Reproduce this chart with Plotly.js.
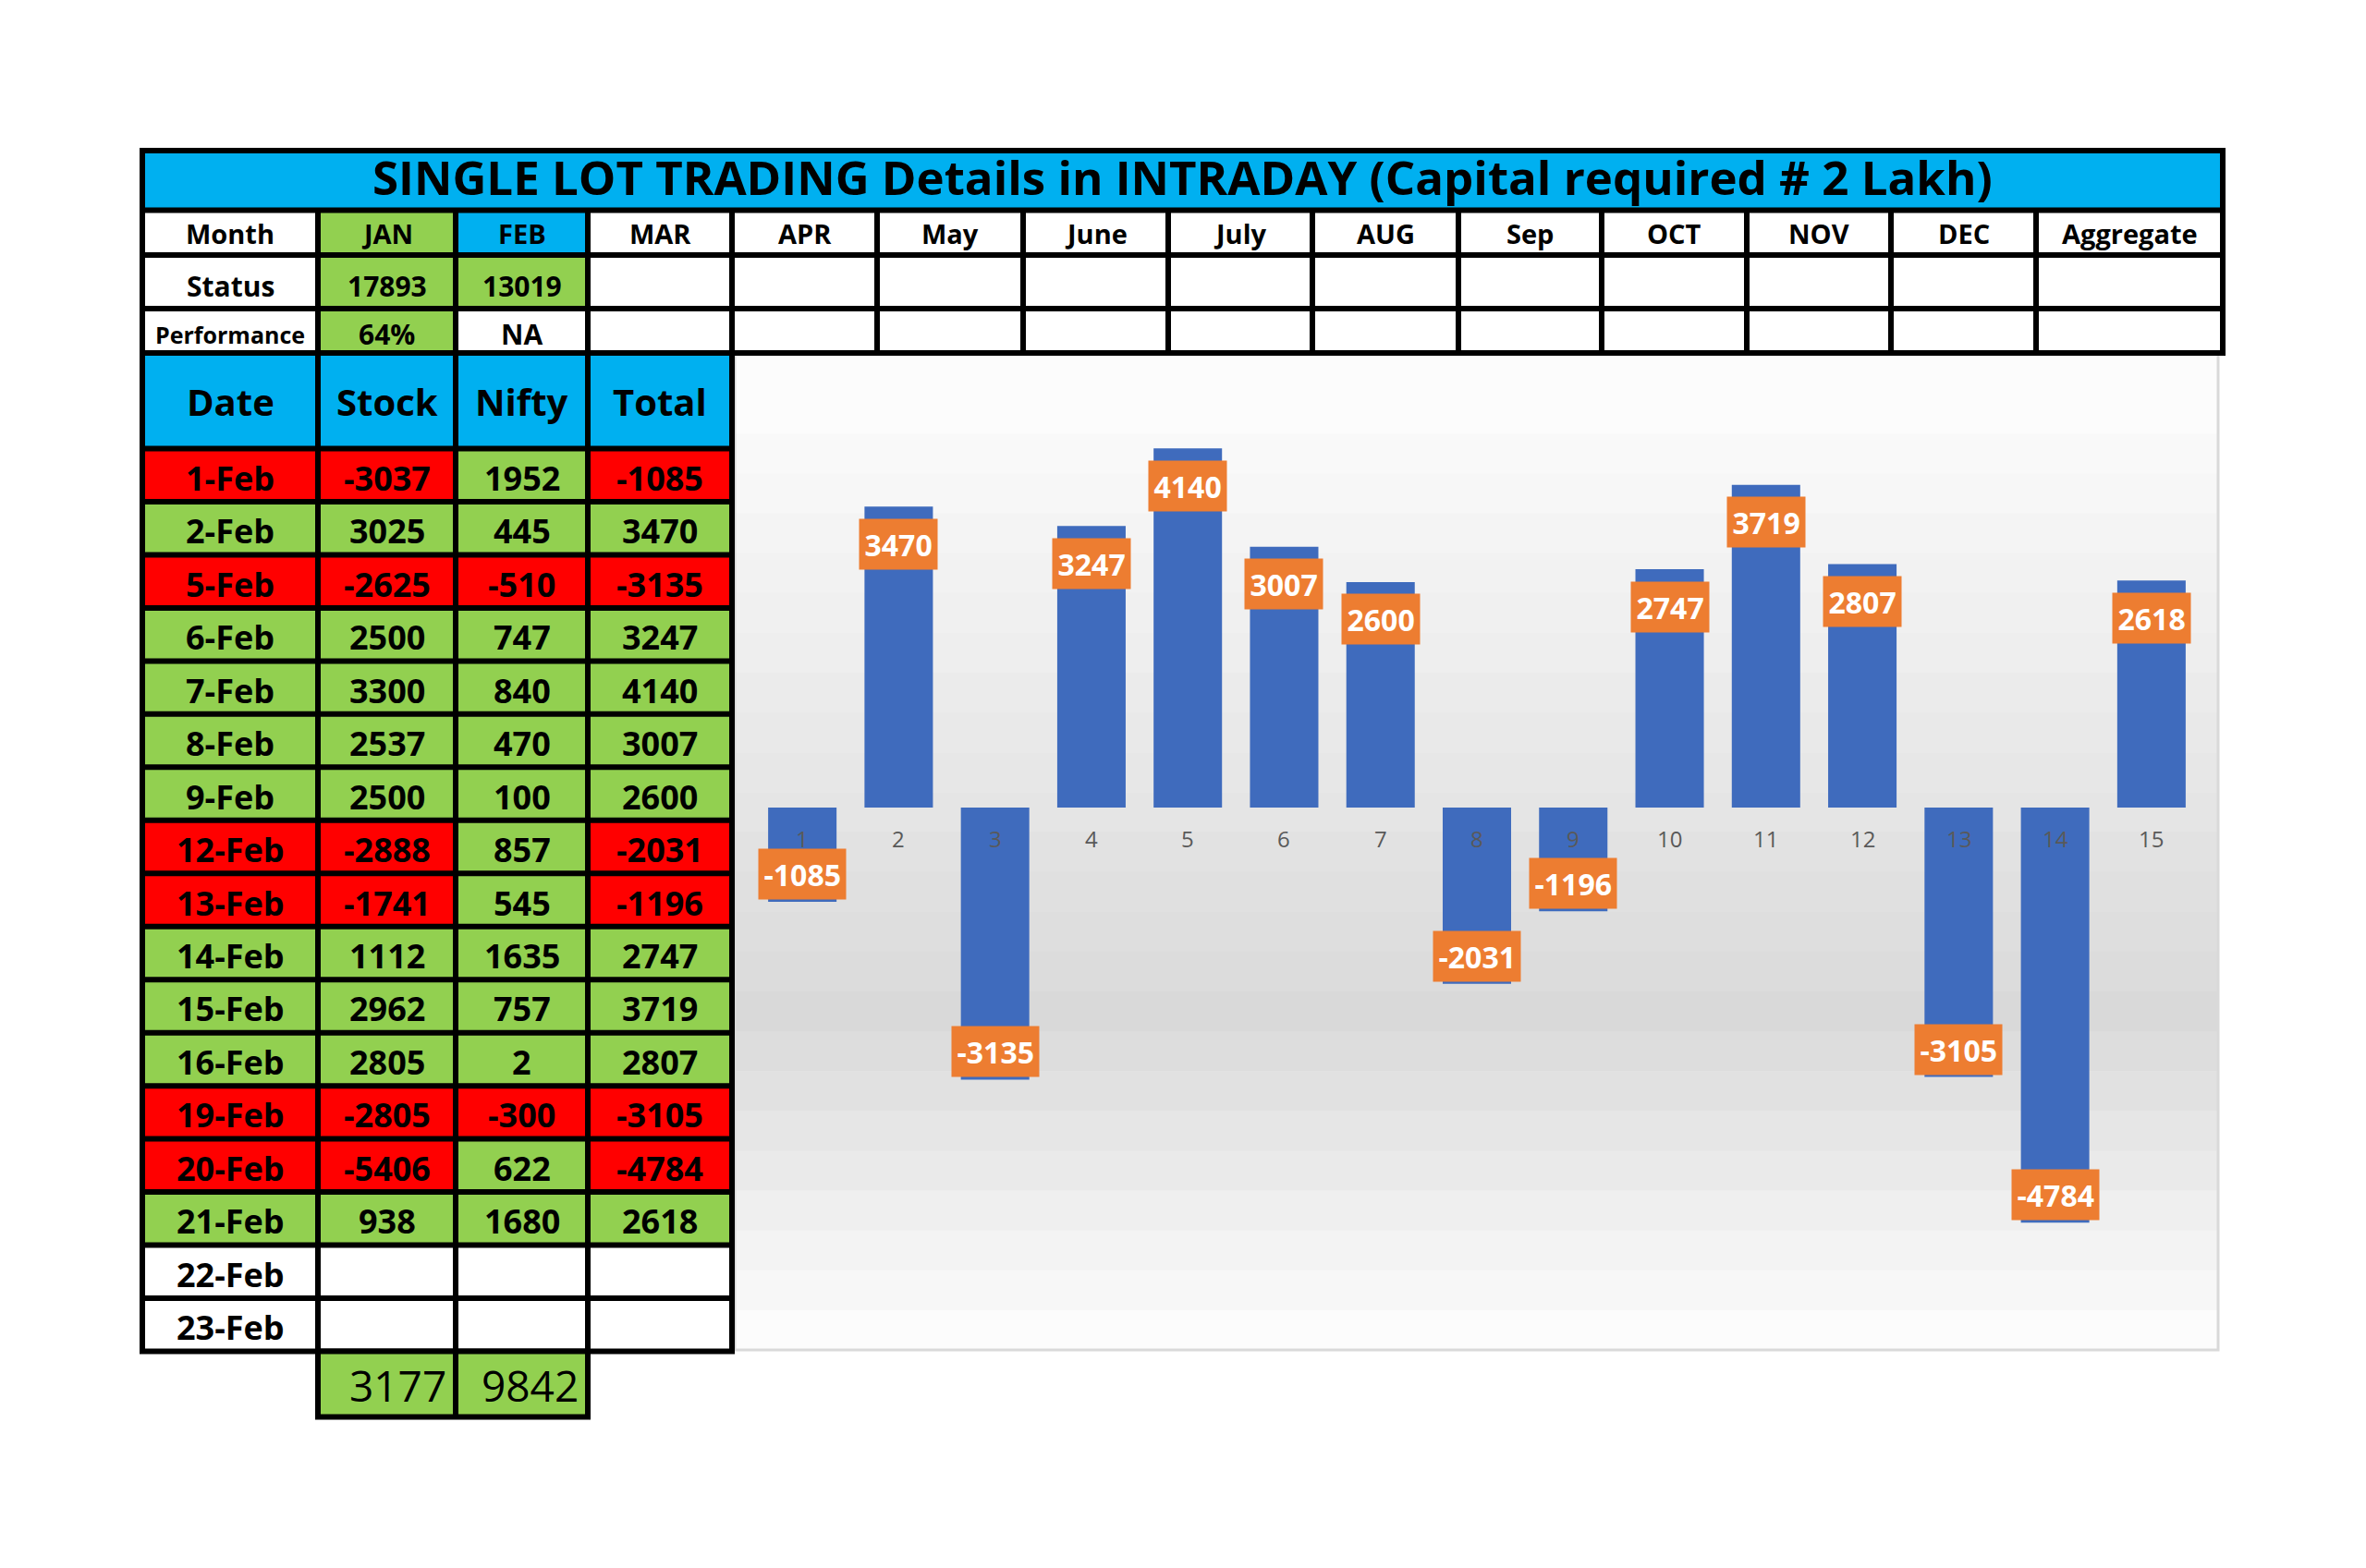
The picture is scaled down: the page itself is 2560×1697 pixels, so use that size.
<!DOCTYPE html>
<html>
<head>
<meta charset="utf-8">
<script src="https://cdn.plot.ly/plotly-3.0.1.min.js"></script>
<style>
  html, body { margin: 0; padding: 0; background: #fff; }
  #chart { width: 2560px; height: 1697px; }
</style>
</head>
<body>
<div id="chart"></div>
<script>
var W = 2560, H = 1697;

// ---- table data ----
var titleText = 'SINGLE LOT TRADING Details in INTRADAY (Capital required # 2 Lakh)';
var months = ['JAN', 'FEB', 'MAR', 'APR', 'May', 'June', 'July', 'AUG', 'Sep', 'OCT', 'NOV', 'DEC', 'Aggregate'];
var statusVals = ['17893', '13019', '', '', '', '', '', '', '', '', '', '', ''];
var performanceVals = ['64%', 'NA', '', '', '', '', '', '', '', '', '', '', ''];
var headers = ['Date', 'Stock', 'Nifty', 'Total'];
var dates = ['1-Feb', '2-Feb', '5-Feb', '6-Feb', '7-Feb', '8-Feb', '9-Feb', '12-Feb', '13-Feb',
             '14-Feb', '15-Feb', '16-Feb', '19-Feb', '20-Feb', '21-Feb', '22-Feb', '23-Feb'];
var stock = [-3037, 3025, -2625, 2500, 3300, 2537, 2500, -2888, -1741, 1112, 2962, 2805, -2805, -5406, 938, null, null];
var nifty = [1952, 445, -510, 747, 840, 470, 100, 857, 545, 1635, 757, 2, -300, 622, 1680, null, null];
var total = [-1085, 3470, -3135, 3247, 4140, 3007, 2600, -2031, -1196, 2747, 3719, 2807, -3105, -4784, 2618, null, null];
var columnTotals = [3177, 9842];

// ---- chart data ----
var tradeNo = [1, 2, 3, 4, 5, 6, 7, 8, 9, 10, 11, 12, 13, 14, 15];
var dayResult = [-1085, 3470, -3135, 3247, 4140, 3007, 2600, -2031, -1196, 2747, 3719, 2807, -3105, -4784, 2618];

var GREEN = '#92D050', RED = '#FF0000', CYAN = '#00B0F0', ORANGE = '#ED7D31', BAR = '#3F6BBD';
var FONT = 'Open Sans, Arial, sans-serif';

function px(x) { return x / W; }
function py(y) { return 1 - y / H; }

var shapes = [];
var annotations = [];

function rect(x0, y0, x1, y1, fill, layer) {
  shapes.push({
    type: 'rect', xref: 'paper', yref: 'paper',
    x0: px(x0), x1: px(x1), y0: py(y1), y1: py(y0),
    fillcolor: fill, line: {width: 0}, layer: layer || 'above'
  });
}

function label(x, y, str, size, bold, xanchor) {
  if (str === '' || str === null) return;
  annotations.push({
    xref: 'paper', yref: 'paper', x: px(x), y: py(y),
    text: String(str), showarrow: false,
    xanchor: xanchor || 'center', yanchor: 'middle',
    font: {family: FONT, size: size, color: '#000', weight: bold ? 700 : 400}
  });
}

function signColor(v) {
  if (v === null) return '#FFFFFF';
  return v < 0 ? RED : GREEN;
}

// ---- chart background (gradient bands) ----
var chartL = 795, chartR = 2400, chartT = 383, chartB = 1461;
var nBands = 25;
var bandH = (chartB - chartT) / nBands;
for (var b = 0; b < nBands; b++) {
  var t = (b + 0.5) / nBands;
  var g;
  if (t < 0.08) g = 252;
  else if (t < 0.665) g = 250 - (t - 0.08) / (0.665 - 0.08) * 33;
  else g = 217 + (t - 0.665) / (1 - 0.665) * 37;
  g = Math.round(g);
  rect(chartL, chartT + b * bandH, chartR, chartT + (b + 1) * bandH + 0.5, 'rgb(' + g + ',' + g + ',' + g + ')', 'below');
}
shapes.push({
  type: 'rect', xref: 'paper', yref: 'paper',
  x0: px(chartL), x1: px(chartR), y0: py(chartB), y1: py(chartT),
  fillcolor: 'rgba(0,0,0,0)', line: {color: '#D9D9D9', width: 3}, layer: 'below'
});

// ---- table grid ----
var colX = [154, 344, 493, 636, 792, 949, 1107, 1264, 1420, 1578, 1733, 1890, 2046, 2203, 2405];
var topY = [163, 227.5, 276, 334, 382];
var half = 3;

// top block: title + Month/Status/Performance
rect(colX[0] - half, topY[0] - half, colX[colX.length - 1] + half, topY[4] + half, '#000');
rect(colX[0] + half, topY[0] + half, colX[colX.length - 1] - half, topY[1] - half, CYAN);
label((colX[0] + colX[colX.length - 1]) / 2, 191, titleText, 51, true);

var rowLabels = ['Month', 'Status', 'Performance'];
var rowTextY = [253, 309, 362];
for (var r = 0; r < 3; r++) {
  var y0 = topY[r + 1] + half, y1 = topY[r + 2] - half;
  for (var c = 0; c < colX.length - 1; c++) {
    var fill = '#FFFFFF';
    var txt = '';
    if (c === 0) {
      txt = rowLabels[r];
    } else {
      var m = c - 1;
      if (r === 0) {
        txt = months[m];
        if (m === 0) fill = GREEN;
        if (m === 1) fill = CYAN;
      } else if (r === 1) {
        txt = statusVals[m];
        if (txt !== '') fill = GREEN;
      } else {
        txt = performanceVals[m];
        if (txt.indexOf('%') >= 0) fill = GREEN;
      }
    }
    rect(colX[c] + half, y0, colX[c + 1] - half, y1, fill);
    label((colX[c] + colX[c + 1]) / 2, rowTextY[r], txt, (r === 2 && c === 0) ? 25 : (r === 0 ? 29 : 30), true);
  }
}

// lower block: Date / Stock / Nifty / Total
var headTop = 382, headBot = 485.5;
var rowPitch = (1462.5 - headBot) / dates.length;
rect(colX[0] - half, headTop - half, colX[4] + half, headBot + dates.length * rowPitch + half, '#000');
for (var c = 0; c < 4; c++) {
  rect(colX[c] + half, headTop + half, colX[c + 1] - half, headBot - half, CYAN);
  label((colX[c] + colX[c + 1]) / 2, 435, headers[c], 40, true);
}
for (var i = 0; i < dates.length; i++) {
  var ya = headBot + i * rowPitch, yb = ya + rowPitch;
  var cells = [dates[i], stock[i], nifty[i], total[i]];
  var fills = [signColor(total[i]), signColor(stock[i]), signColor(nifty[i]), signColor(total[i])];
  for (var c = 0; c < 4; c++) {
    rect(colX[c] + half, ya + half, colX[c + 1] - half, yb - half, fills[c]);
    label((colX[c] + colX[c + 1]) / 2, (ya + yb) / 2 + 3, cells[c], 36, true);
  }
}

// column totals under Stock and Nifty
var totTop = 1462.5, totBot = 1533.5;
rect(colX[1] - half, totTop - half, colX[3] + half, totBot + half, '#000');
for (var k = 0; k < columnTotals.length; k++) {
  rect(colX[k + 1] + half, totTop + half, colX[k + 2] - half, totBot - half, GREEN);
  label(colX[k + 2] - 8, (totTop + totBot) / 2 + 1, columnTotals[k], 46, false, 'right');
}

// ---- bar chart labels ----
tradeNo.forEach(function (n, j) {
  annotations.push({
    xref: 'x', yref: 'y', x: n, y: 0, yshift: -33,
    text: String(n), showarrow: false, xanchor: 'center', yanchor: 'middle',
    font: {family: FONT, size: 24, color: '#595959'}
  });
  var v = dayResult[j];
  annotations.push({
    xref: 'x', yref: 'y', x: n, y: v,
    yshift: v >= 0 ? -12.5 : 2,
    text: String(v), showarrow: false, xanchor: 'center', yanchor: v >= 0 ? 'top' : 'bottom',
    bgcolor: ORANGE, borderpad: 5.5,
    font: {family: FONT, size: 32, color: '#FFFFFF', weight: 700}
  });
});

var data = [{
  type: 'bar',
  x: tradeNo,
  y: dayResult,
  marker: {color: BAR},
  hoverinfo: 'none',
  showlegend: false
}];

var layout = {
  width: W,
  height: H,
  margin: {l: 0, r: 0, t: 0, b: 0},
  paper_bgcolor: '#FFFFFF',
  plot_bgcolor: 'rgba(0,0,0,0)',
  bargap: 0.29,
  xaxis: {
    domain: [px(816), px(2380)],
    range: [0.5, 15.5],
    visible: false,
    fixedrange: true
  },
  yaxis: {
    domain: [py(1461), py(385)],
    range: [-6251, 5208],
    visible: false,
    fixedrange: true
  },
  shapes: shapes,
  annotations: annotations,
  showlegend: false
};

var config = {staticPlot: true};

Plotly.newPlot('chart', data, layout, config);
</script>
</body>
</html>
